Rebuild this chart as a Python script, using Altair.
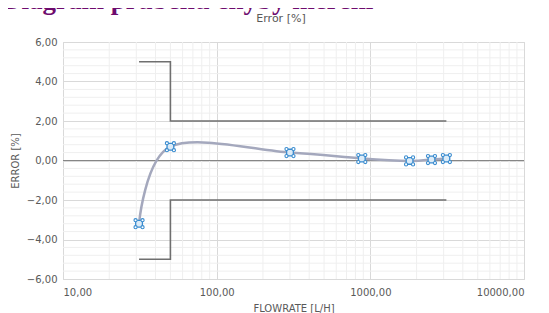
import altair as alt
import pandas as pd

# ---- data ----
flow = [31.25, 50, 300, 880, 1800, 2500, 3125]
error = [-3.2, 0.7, 0.4, 0.1, -0.02, 0.05, 0.1]

limit_flow = [31.25, 50, 50, 3125]
limit_upper = [5, 5, 2, 2]
limit_lower = [-5, -5, -2, -2]

x_major = [10, 100, 1000, 10000]
x_minor = [20, 30, 40, 50, 60, 70, 80, 90,
           200, 300, 400, 500, 600, 700, 800, 900,
           2000, 3000, 4000, 5000, 6000, 7000, 8000, 9000]
y_major = [-6, -4, -2, 0, 2, 4, 6]
y_minor = [-5.6, -5.2, -4.8, -4.4, -3.6, -3.2, -2.8, -2.4, -1.6, -1.2, -0.8, -0.4,
           0.4, 0.8, 1.2, 1.6, 2.4, 2.8, 3.2, 3.6, 4.4, 4.8, 5.2, 5.6]

main_title = "Diagram průběhu chyby měření"
chart_title = "Error [%]"
x_title = "FLOWRATE [L/H]"
y_title = "ERROR [%]"

# ---- tables ----
pts = pd.DataFrame({"flow": flow, "error": error})
lim = pd.DataFrame({
    "flow": limit_flow + limit_flow,
    "error": limit_upper + limit_lower,
    "bound": ["upper"] * len(limit_flow) + ["lower"] * len(limit_flow),
    "i": list(range(len(limit_flow))) * 2,
})
xmin_df = pd.DataFrame({"flow": x_minor})
ymin_df = pd.DataFrame({"error": y_minor})
zero_df = pd.DataFrame({"error": [0]})

label_expr = "replace(format(datum.value, '.2f'), '.', ',')"
xscale = alt.Scale(type="log", domain=[10, 10000])
yscale = alt.Scale(domain=[-6, 6])

grey = "#595959"

xaxis = alt.Axis(values=x_major, labelExpr=label_expr, title=x_title,
                 grid=True, gridColor="#d9d9d9", ticks=False, domain=False,
                 labelPadding=8, titlePadding=6, labelFontSize=10,
                 titleFontSize=10, titleFontWeight="normal")
yaxis = alt.Axis(values=y_major, labelExpr=label_expr, title=y_title,
                 grid=True, gridColor="#d9d9d9", ticks=False, domain=False,
                 labelPadding=6, titlePadding=6, labelFontSize=10,
                 titleFontSize=10, titleFontWeight="normal")

X = alt.X("flow:Q", scale=xscale, axis=xaxis)
Y = alt.Y("error:Q", scale=yscale, axis=yaxis)

minor_x = alt.Chart(xmin_df).mark_rule(color="#efefef", strokeWidth=1).encode(x=X)
minor_y = alt.Chart(ymin_df).mark_rule(color="#efefef", strokeWidth=1).encode(y=Y)

zero = alt.Chart(zero_df).mark_rule(color="#868686", strokeWidth=1).encode(y=Y)

limits = alt.Chart(lim).mark_line(color="#6f6f6f", strokeWidth=1.6).encode(
    x=X, y=Y, detail="bound:N", order="i:Q")

curve = alt.Chart(pts).mark_line(color="#a4a8bd", strokeWidth=2.5,
                                 interpolate="cardinal").encode(x=X, y=Y)

square = alt.Chart(pts).mark_point(shape="square", size=45, filled=False, stroke="#3a8ccf",
                                   fill="#dcebf7", fillOpacity=1, strokeWidth=1.3).encode(x=X, y=Y)

corners = []
for dx, dy in [(-3.5, -3.5), (3.5, -3.5), (-3.5, 3.5), (3.5, 3.5)]:
    corners.append(
        alt.Chart(pts).mark_point(shape="circle", size=10, filled=False, stroke="#3a8ccf",
                                  fill="white", fillOpacity=1, strokeWidth=1.1,
                                  xOffset=dx, yOffset=dy).encode(x=X, y=Y))

title_big = alt.Chart(pd.DataFrame({"t": [main_title]})).mark_text(
    font="Liberation Serif", fontWeight="bold", fontSize=27, color="#6e0b6e",
    align="left", baseline="alphabetic").encode(
    x=alt.value(-61), y=alt.value(-33), text="t:N")

title_small = alt.Chart(pd.DataFrame({"t": [chart_title]})).mark_text(
    font="DejaVu Sans", fontSize=11, color=grey, align="center", baseline="middle").encode(
    x=alt.value(218), y=alt.value(-23), text="t:N")

chart = alt.layer(minor_x, minor_y, zero, limits, curve, square, *corners,
                  title_big, title_small).properties(
    width=461, height=237,
    autosize=alt.AutoSizeParams(type="none"),
    padding={"left": 55, "top": 34, "right": 17, "bottom": 34},
).configure_view(stroke="#d9d9d9").configure_axis(
    labelFont="DejaVu Sans", titleFont="DejaVu Sans",
    labelColor=grey, titleColor=grey)

chart.save("out.html", embed_options={"renderer": "svg", "actions": False})
